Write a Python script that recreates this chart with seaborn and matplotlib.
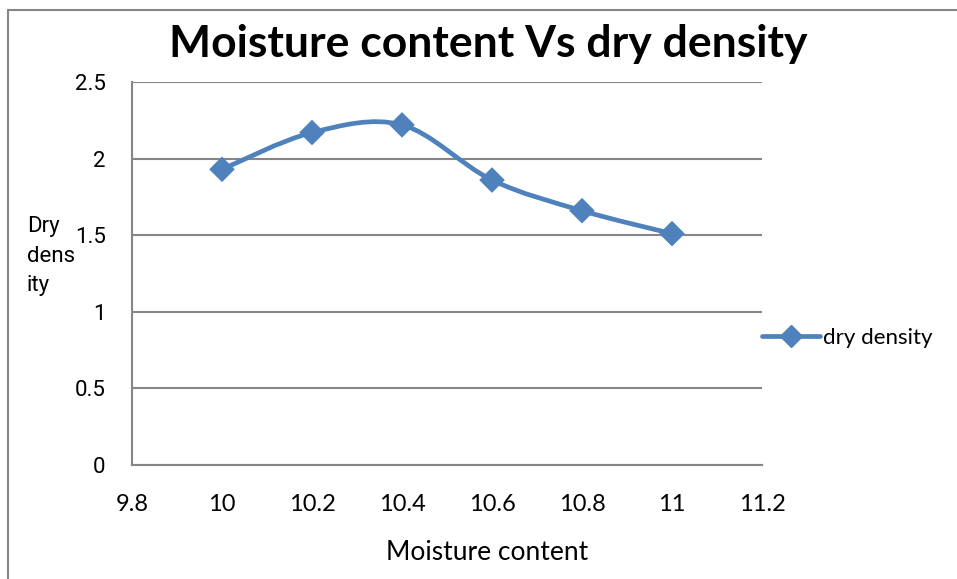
import matplotlib
matplotlib.use("Agg")
import matplotlib.pyplot as plt
import seaborn as sns
import pandas as pd
from matplotlib.path import Path
from matplotlib.patches import PathPatch
from matplotlib.lines import Line2D

moisture = [10.0, 10.2, 10.4, 10.6, 10.8, 11.0]
dry_density = [1.93, 2.17, 2.22, 1.86, 1.66, 1.51]
x_ticks = [9.8, 10, 10.2, 10.4, 10.6, 10.8, 11, 11.2]
y_ticks = [0, 0.5, 1, 1.5, 2, 2.5]

BLUE = "#4F81BD"
GRAY = "#868686"
NARROW = ["Lato", "DejaVu Sans"]
REG = ["Roboto", "DejaVu Sans"]


def smooth_path(xs, ys):
    # Excel style smoothed line: Catmull-Rom segments as cubic Beziers
    pts = list(zip(xs, ys))
    verts = [pts[0]]
    codes = [Path.MOVETO]
    n = len(pts)
    for i in range(n - 1):
        p0 = pts[max(i - 1, 0)]
        p1 = pts[i]
        p2 = pts[i + 1]
        p3 = pts[min(i + 2, n - 1)]
        c1 = (p1[0] + (p2[0] - p0[0]) / 6, p1[1] + (p2[1] - p0[1]) / 6)
        c2 = (p2[0] - (p3[0] - p1[0]) / 6, p2[1] - (p3[1] - p1[1]) / 6)
        verts += [c1, c2, p2]
        codes += [Path.CURVE4] * 3
    return Path(verts, codes)


sns.set_theme(style="white")
plt.rcParams["text.color"] = "black"
plt.rcParams["xtick.labelcolor"] = "black"
plt.rcParams["ytick.labelcolor"] = "black"
plt.rcParams["axes.labelcolor"] = "black"

fig = plt.figure(figsize=(9.57, 5.79), dpi=100)
ax = fig.add_axes([132 / 957, 1 - 465 / 579, 630 / 957, 383 / 579])

df = pd.DataFrame({"moisture": moisture, "dry_density": dry_density})

ax.add_patch(PathPatch(smooth_path(moisture, dry_density), facecolor="none",
                       edgecolor=BLUE, lw=3.4, capstyle="round", zorder=3))
sns.scatterplot(data=df, x="moisture", y="dry_density", marker="D", s=170,
                color=BLUE, edgecolor="none", zorder=4, ax=ax, legend=False)

ax.set_xlim(9.8, 11.2)
ax.set_ylim(0, 2.5)
ax.set_xticks(x_ticks)
ax.set_yticks(y_ticks)
ax.set_xticklabels([f"{v:g}" for v in x_ticks], fontsize=17, family=NARROW)
ax.set_yticklabels([f"{v:g}" for v in y_ticks], fontsize=16, family=REG)
ax.tick_params(axis="x", direction="out", length=8, width=1.3, color=GRAY, pad=13)
ax.tick_params(axis="y", direction="out", length=8, width=1.3, color=GRAY, pad=11)
ax.yaxis.grid(True, color=GRAY, lw=1.5)
ax.xaxis.grid(False)
for side in ["top", "right"]:
    ax.spines[side].set_visible(False)
for side in ["left", "bottom"]:
    ax.spines[side].set_color(GRAY)
    ax.spines[side].set_linewidth(1.5)
ax.set_xlabel("Moisture content", fontsize=19, family=NARROW)
ax.xaxis.set_label_coords((487 - 132) / 630, (465 - 552) / 383)
ax.xaxis.label.set_va("center")
ax.set_ylabel("")

fig.text(27 / 957, 1 - 256 / 579, "Dry\ndens\nity", fontsize=16, family=REG,
         ha="left", va="center", linespacing=1.55)
fig.text(488 / 957, 1 - 44 / 579, "Moisture content Vs dry density",
         fontsize=32, fontweight="bold", family=NARROW, ha="center", va="center")

handle = Line2D([], [], color=BLUE, lw=3.4, marker="D", markersize=11)
fig.legend([handle], ["dry density"], loc="center left",
           bbox_to_anchor=(762 / 957, 1 - 338 / 579), frameon=False,
           prop={"family": NARROW, "size": 16}, handlelength=2.6,
           handletextpad=0.15, borderpad=0, borderaxespad=0)

# chart frame (left and top edges visible)
fig.add_artist(Line2D([8 / 957, 8 / 957], [0, 1 - 10 / 579], color=GRAY, lw=1.5))
fig.add_artist(Line2D([8 / 957, 1], [1 - 10 / 579, 1 - 10 / 579], color=GRAY, lw=1.5))

fig.savefig("out.png", dpi=100)
